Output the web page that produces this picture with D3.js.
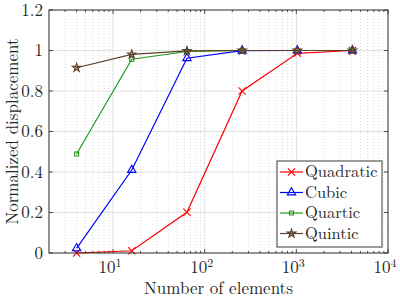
<!DOCTYPE html>
<html><head><meta charset="utf-8">
<script src="https://cdn.jsdelivr.net/npm/d3@7"></script>
<style>body{margin:0;background:#fff}svg{display:block}</style>
</head><body>
<svg id="c" width="400" height="300"></svg>
<script>
const elements = [4, 16, 64, 256, 1024, 4096];
const quadratic = [0, 0.011, 0.201, 0.80, 0.986, 1.0];
const cubic = [0.023, 0.41, 0.962, 0.999, 1.0, 1.0];
const quartic = [0.489, 0.957, 0.995, 1.0, 1.0, 1.0];
const quintic = [0.915, 0.981, 0.998, 1.0, 1.0, 1.0];
const seriesNames = ["Quadratic", "Cubic", "Quartic", "Quintic"];
const seriesColors = ["#ff0000", "#0000ff", "#1f9a1f", "#5c3f2a"];
const seriesMarkers = ["times", "triangle", "square", "star"];
const yTicks = [0, 0.2, 0.4, 0.6, 0.8, 1, 1.2];
const xTickExps = [1, 2, 3, 4];

const series = [quadratic, cubic, quartic, quintic];
const svg = d3.select("#c");
const TXT = "#262626";
const FONT = '"Latin Modern Roman", "Liberation Serif", serif';
const FS = 17;
const L = 49, R = 388, T = 10, B = 253;
const x = d3.scaleLog().domain([2, 1e4]).range([L, R]);
const y = d3.scaleLinear().domain([0, 1.2]).range([B, T]);

// minor grid
const minor = [];
for (let e = 0; e <= 3; e++) for (let m = 2; m <= 9; m++) { const v = m * Math.pow(10, e); if (v > 2 && v < 1e4) minor.push(v); }
svg.append("g").selectAll("line").data(minor).join("line")
  .attr("x1", d => x(d)).attr("x2", d => x(d)).attr("y1", T).attr("y2", B)
  .attr("stroke", "#d0d0d0").attr("stroke-width", 0.8).attr("stroke-dasharray", "1,2");
// major grid
svg.append("g").selectAll("line").data(xTickExps.map(e => Math.pow(10, e)).filter(v => v < 1e4)).join("line")
  .attr("x1", d => x(d)).attr("x2", d => x(d)).attr("y1", T).attr("y2", B)
  .attr("stroke", "#e0e0e0").attr("stroke-width", 1);
svg.append("g").selectAll("line").data(yTicks.filter(v => v > 0 && v < 1.2)).join("line")
  .attr("x1", L).attr("x2", R).attr("y1", d => y(d)).attr("y2", d => y(d))
  .attr("stroke", "#e0e0e0").attr("stroke-width", 1);

// axes ticks (inward)
const axCol = "#262626";
const tg = svg.append("g").attr("stroke", axCol).attr("stroke-width", 0.8);
yTicks.forEach(v => {
  tg.append("line").attr("x1", L).attr("x2", L + 4).attr("y1", y(v)).attr("y2", y(v));
  tg.append("line").attr("x1", R).attr("x2", R - 4).attr("y1", y(v)).attr("y2", y(v));
});
xTickExps.forEach(e => {
  const v = Math.pow(10, e);
  tg.append("line").attr("x1", x(v)).attr("x2", x(v)).attr("y1", B).attr("y2", B - 4);
  tg.append("line").attr("x1", x(v)).attr("x2", x(v)).attr("y1", T).attr("y2", T + 4);
});
minor.forEach(v => {
  tg.append("line").attr("x1", x(v)).attr("x2", x(v)).attr("y1", B).attr("y2", B - 2);
  tg.append("line").attr("x1", x(v)).attr("x2", x(v)).attr("y1", T).attr("y2", T + 2);
});

// lines
const line = d3.line().x((d, i) => x(elements[i])).y(d => y(d));
function marker(g, type, color, cx, cy) {
  let sym, size, fill = "none";
  if (type === "times") { sym = d3.symbolTimes; size = 36; }
  else if (type === "triangle") { sym = d3.symbolTriangle; size = 30; }
  else if (type === "square") { sym = d3.symbolSquare; size = 16; }
  else { sym = d3.symbolStar; size = 22; fill = color; }
  const p = g.append("path").attr("d", d3.symbol(sym, size)()).attr("transform", `translate(${cx},${cy})`)
    .attr("stroke", color).attr("stroke-width", 1.1).attr("fill", fill);
  if (type === "star") p.attr("fill-opacity", 0.5);
}
series.forEach((s, k) => {
  const g = svg.append("g");
  g.append("path").attr("d", line(s)).attr("fill", "none").attr("stroke", seriesColors[k]).attr("stroke-width", 1.2);
  s.forEach((v, i) => marker(g, seriesMarkers[k], seriesColors[k], x(elements[i]), y(v)));
});

// box
svg.append("rect").attr("x", L).attr("y", T).attr("width", R - L).attr("height", B - T)
  .attr("fill", "none").attr("stroke", axCol).attr("stroke-width", 1);

// tick labels
svg.append("g").selectAll("text").data(yTicks).join("text")
  .attr("x", L - 6).attr("y", d => y(d)).attr("dy", "0.33em").attr("text-anchor", "end")
  .style("font-family", FONT).attr("font-size", FS).attr("fill", TXT).text(d => d3.format("")(d));
const xl = svg.append("g").selectAll("text").data(xTickExps).join("text")
  .attr("x", d => x(Math.pow(10, d)) - 3).attr("y", 273).attr("text-anchor", "middle")
  .style("font-family", FONT).attr("font-size", FS).attr("fill", TXT);
xl.append("tspan").text("10");
xl.append("tspan").attr("dy", -6).attr("font-size", 12).text(d => d);

// axis titles
svg.append("text").attr("x", (L + R) / 2).attr("y", 294).attr("text-anchor", "middle").style("font-family", FONT)
  .attr("font-size", FS).attr("fill", TXT).text("Number of elements");
svg.append("text").attr("transform", `translate(18,${(T + B) / 2}) rotate(-90)`).attr("text-anchor", "middle")
  .style("font-family", FONT).attr("font-size", FS).attr("fill", TXT).text("Normalized displacement");

// legend
const lg = svg.append("g");
lg.append("rect").attr("x", 277).attr("y", 161).attr("width", 105).attr("height", 86)
  .attr("fill", "#fff").attr("stroke", axCol).attr("stroke-width", 0.9);
seriesNames.forEach((n, k) => {
  const yy = 172 + k * 20.5;
  lg.append("line").attr("x1", 280).attr("x2", 303).attr("y1", yy).attr("y2", yy)
    .attr("stroke", seriesColors[k]).attr("stroke-width", 1.2);
  marker(lg, seriesMarkers[k], seriesColors[k], 291.5, yy);
  lg.append("text").attr("x", 305).attr("y", yy).attr("dy", "0.33em").style("font-family", FONT)
    .attr("font-size", 16.5).attr("fill", TXT).text(n);
});
</script>
</body></html>
